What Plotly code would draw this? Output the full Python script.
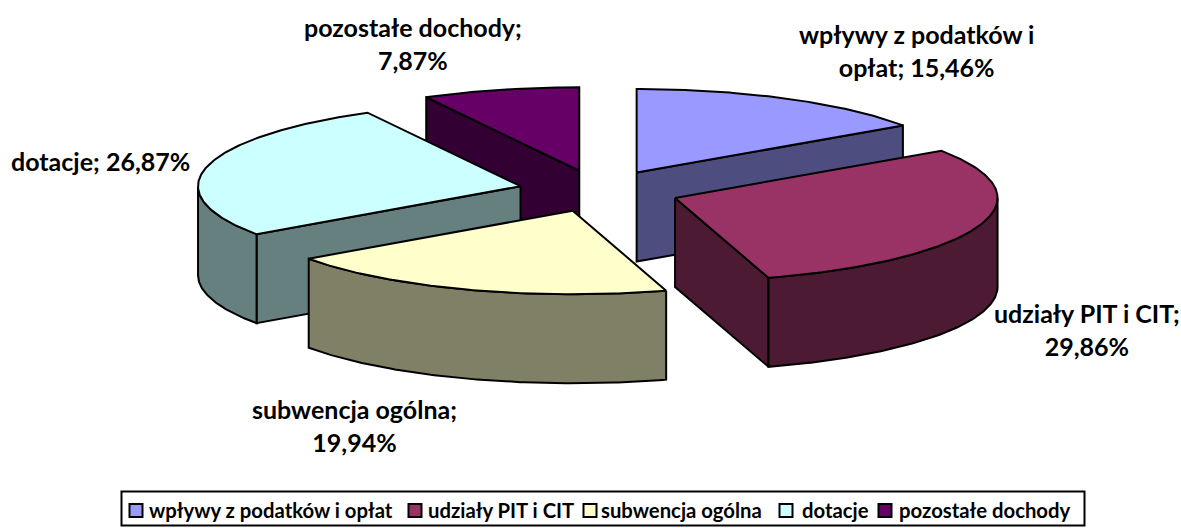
import math
import plotly.graph_objects as go

categories = ["wpływy z podatków i opłat", "udziały PIT i CIT", "subwencja ogólna", "dotacje", "pozostałe dochody"]
values = [15.46, 29.86, 19.94, 26.87, 7.87]
top_colors = ["#9999FF", "#993366", "#FFFFCC", "#CCFFFF", "#660066"]
side_colors = ["#4D4D80", "#4D1A33", "#808066", "#668080", "#330033"]
label_texts = ["wpływy z podatków i<br>opłat; 15,46%", "udziały PIT i CIT;<br>29,86%", "subwencja ogólna;<br>19,94%",
               "dotacje; 26,87%", "pozostałe dochody;<br>7,87%"]
label_x = [916, 1087, 354, 100, 413]
label_y = [50, 329, 425, 161, 43]
legend_key_x = [136, 415, 590, 786, 885]
legend_text_x = [147, 426, 599, 800, 897]

W, H = 1181, 528
CX, CY = 599, 191
RX, RY = 322.5, 83.5
DEPTH = 89
EXPLODE = 0.25
FONT = "Lato, Carlito, sans-serif"


def pt(cx, cy, deg, dz=0.0):
    a = math.radians(deg)
    return cx + RX * math.sin(a), cy - RY * math.cos(a) + dz


def arc(cx, cy, a0, a1, dz=0.0):
    n = max(2, int(abs(a1 - a0) * 1.5))
    return [pt(cx, cy, a0 + (a1 - a0) * i / n, dz) for i in range(n + 1)]


total = sum(values)
slices = []
start = 0.0
for i, v in enumerate(values):
    end = start + v / total * 360
    mid = (start + end) / 2
    m = math.radians(mid)
    slices.append(dict(i=i, a0=start, a1=end,
                       cx=CX + EXPLODE * RX * math.sin(m),
                       cy=CY - EXPLODE * RY * math.cos(m),
                       back=math.cos(m)))
    start = end

fig = go.Figure()


def poly(points, fill, name):
    xs = [p[0] for p in points] + [points[0][0]]
    ys = [p[1] for p in points] + [points[0][1]]
    fig.add_trace(go.Scatter(x=xs, y=ys, mode="lines", fill="toself", fillcolor=fill, name=name,
                             line=dict(color="black", width=2), showlegend=False, hoverinfo="name"))


for s in sorted(slices, key=lambda d: -d["back"]):
    i, a0, a1, cx, cy = s["i"], s["a0"], s["a1"], s["cx"], s["cy"]
    name = categories[i]
    if math.cos(math.radians(a0 - 90)) < 0:
        p = pt(cx, cy, a0)
        poly([(cx, cy), p, (p[0], p[1] + DEPTH), (cx, cy + DEPTH)], side_colors[i], name)
    if math.cos(math.radians(a1 + 90)) < 0:
        p = pt(cx, cy, a1)
        poly([(cx, cy), p, (p[0], p[1] + DEPTH), (cx, cy + DEPTH)], side_colors[i], name)
    r0, r1 = max(a0, 90), min(a1, 270)
    if r1 > r0:
        poly(arc(cx, cy, r0, r1) + arc(cx, cy, r1, r0, DEPTH), side_colors[i], name)
    poly([(cx, cy)] + arc(cx, cy, a0, a1), top_colors[i], name)

for t, x, y in zip(label_texts, label_x, label_y):
    fig.add_annotation(x=x, y=y, text=t, showarrow=False, xanchor="center", yanchor="middle", align="center",
                       font=dict(family=FONT, size=25, color="black", weight="bold"))

# legend box, keys and names
fig.add_shape(type="rect", x0=121.5, x1=1084.5, y0=491.5, y1=525.5, line=dict(color="black", width=2),
              fillcolor="white", layer="below")
for i, name in enumerate(categories):
    fig.add_trace(go.Scatter(x=[legend_key_x[i]], y=[510.5], mode="markers", name=name, showlegend=False,
                             marker=dict(symbol="square", size=13, color=top_colors[i],
                                         line=dict(color="black", width=2))))
    fig.add_annotation(x=legend_text_x[i], y=510, text=name, showarrow=False, xanchor="left", yanchor="middle",
                       font=dict(family=FONT, size=20.3, color="black", weight="bold"))

fig.update_layout(
    width=W, height=H, margin=dict(l=0, r=0, t=0, b=0), paper_bgcolor="white", plot_bgcolor="white",
    xaxis=dict(range=[0, W], visible=False, fixedrange=True),
    yaxis=dict(range=[H, 0], visible=False, fixedrange=True),
    showlegend=False, hovermode="closest",
)
fig.write_html("out.html", config={"displayModeBar": False},
               post_script="document.body.style.margin='0';document.body.style.overflow='hidden';")
